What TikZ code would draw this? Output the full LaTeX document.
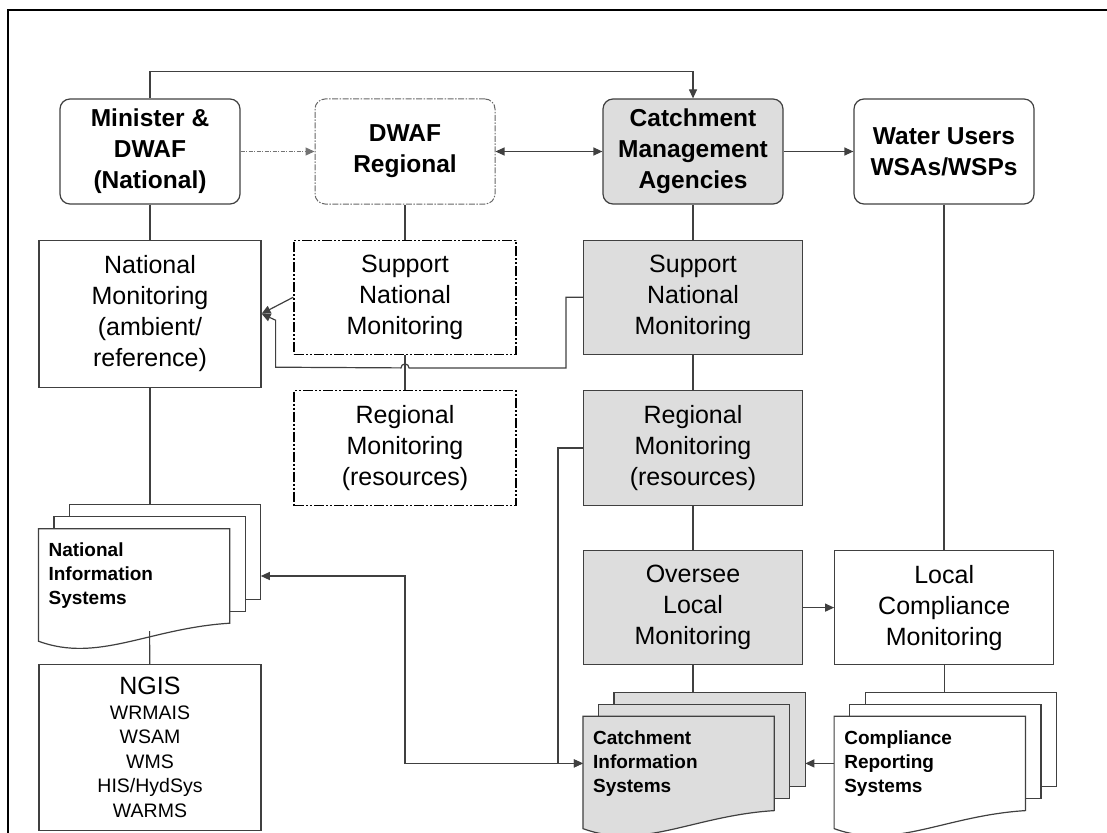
\documentclass[tikz,border=0pt]{standalone}
\usepackage{fontspec}
\setmainfont{Liberation Sans}
\usetikzlibrary{shapes,arrows.meta,positioning,calc,backgrounds}

\definecolor{boxgray}{RGB}{221,221,221}
\definecolor{edge}{RGB}{64,64,64}

% stack of three report pages behind a front node, the front one with a wavy foot
\newcommand{\docstack}[2]{%
  \coordinate (#1back) at ($(#1.north)+(31,-24)$);
  \coordinate (#1rim) at ($(#1.east)+(31,0)$);
  \begin{scope}[on background layer]
    \foreach \k in {2,1}
      \filldraw[docpage, fill=#2] ($(#1.north west)+(15.5*\k,-12*\k)$) rectangle ($(#1.south east)+(15.5*\k,-12*\k)$);
    \filldraw[docpage, fill=#2] (#1.north west) -- (#1.north east) -- (#1.south east)
      .. controls +(-81,5) and +(60,22) .. ($(#1.south west)+(0,18)$) -- cycle;
  \end{scope}}

\begin{document}
\begin{tikzpicture}[
    x=1pt, y=-1pt,
    node distance=35pt and 31pt,
    headbox/.style={rectangle, draw=edge, line width=1.2pt, rounded corners=10pt, minimum width=180pt, minimum height=105pt, align=center, inner sep=2pt, font=\fontsize{24.5}{31}\selectfont\bfseries},
    regdash/.style={draw=black!60, line width=1pt, dash pattern=on 6pt off 1.5pt on 1.5pt off 1.5pt},
    monbox/.style={rectangle, draw=edge, line width=1.2pt, minimum width=219pt, minimum height=114pt, align=center, inner sep=2pt, font=\fontsize{25}{31}\selectfont},
    dashbox/.style={draw=black, line width=1.4pt, minimum width=222pt, dash pattern=on 10pt off 2pt on 2pt off 2pt on 2pt off 2pt},
    docfront/.style={rectangle, text width=171pt, inner xsep=10pt, inner ysep=0pt, minimum height=94pt, align=left, font=\fontsize{19}{24}\selectfont\bfseries},
    docpage/.style={draw=edge, line width=1.2pt},
    listbox/.style={rectangle, draw=edge, line width=1.2pt, minimum width=222pt, minimum height=166pt, align=center, inner sep=2pt, font=\fontsize{19.5}{24.5}\selectfont},
    link/.style={draw=edge, line width=1.2pt},
    arrow/.style={link, -{Triangle[length=9pt,width=8pt]}},
    dblarrow/.style={link, {Triangle[length=9pt,width=8pt]}-{Triangle[length=9pt,width=8pt]}},
    dotarrow/.style={arrow, draw=black!55, dash pattern=on 4pt off 1.5pt on 1pt off 1.5pt}
]
\useasboundingbox (0,0) rectangle (1107,832);
\draw[line width=2.6pt] (8,10) rectangle (1140,860);

% Top row: who is responsible
\node [headbox] (minister) at (150,151.5) {Minister \&\\DWAF\\(National)};
\node [headbox, regdash] (regional) at (405,151.5) {DWAF\\Regional};
\node [headbox, fill=boxgray] (cma) at (693,151.5) {Catchment\\Management\\Agencies};
\node [headbox] (users) at (944,151.5) {Water Users\\WSAs/WSPs};

% Monitoring programmes
\node [monbox, minimum width=222pt, minimum height=147pt, below=of minister] (natmon) {National\\Monitoring\\(ambient/\\reference)};
\node [monbox, dashbox, below=of regional] (supd) {Support\\National\\Monitoring};
\node [monbox, fill=boxgray, below=of cma] (supg) {Support\\National\\Monitoring};
\node [monbox, dashbox, minimum height=115pt, below=of supd] (regd) {Regional\\Monitoring\\(resources)};
\node [monbox, fill=boxgray, minimum height=115pt, below=of supg] (regg) {Regional\\Monitoring\\(resources)};
\node [monbox, fill=boxgray, below=44pt of regg] (oversee) {Oversee\\Local\\Monitoring};
\node [monbox, right=of oversee] (localc) {Local\\Compliance\\Monitoring};

% Information systems
\node [docfront, anchor=north west] (natis) at ($(natmon.south west)+(0,141)$) {National\\Information\\Systems};
\node [docfront, anchor=north west] (cis) at ($(oversee.south west)+(0,51)$) {Catchment\\Information\\Systems};
\node [docfront, anchor=north west] (crs) at ($(localc.south west)+(0,51)$) {Compliance\\Reporting\\Systems};
\docstack{natis}{white}
\docstack{cis}{boxgray}
\docstack{crs}{white}

\node [listbox, below=276pt of natmon] (ngis) {{\fontsize{25}{29}\selectfont NGIS}\\WRMAIS\\WSAM\\WMS\\HIS/HydSys\\WARMS};

% Top row arrows
\draw [arrow] (minister.north) -- ++(0,-27) -| (cma.north);
\draw [dotarrow] (minister) -- (regional);
\draw [dblarrow] (regional) -- (cma);
\draw [arrow] (cma) -- (users);

% Vertical links
\draw [link] (minister) -- (natmon);
\draw [link] (regional) -- (supd);
\draw [link] (supd) -- (regd);
\draw [link] (cma) -- (supg);
\draw [link] (supg) -- (regg);
\draw [link] (regg) -- (oversee);
\draw [link] (users.south) -- (users.south |- localc.north);
\draw [link] (natmon.south) -- (natmon.south |- natisback);
\draw [link] (ngis) -- ($(natis.south)+(15.5,8)$);
\draw [link] (oversee.south) -- (oversee.south |- cisback);
\draw [link] (localc.south) -- (localc.south |- crsback);

% Support for national monitoring
\draw [arrow] (supd.west) -- (natmon.east);
\draw [arrow] (supg.west) -- ++(-17,0) |- ($(supd.south)+(4,13)$)
    arc[start angle=0, end angle=180, radius=4pt]
    -- ($(natmon.east)+(14,53.5)$) -- ++(0,-47) -- (natmon.east);

% Data flow into the information systems
\draw [arrow] (regg.west) -- ++(-25,0) |- (cis.west);
\draw [dblarrow] (natisrim) -| (regd.south |- cis.west) -- (cis.west);
\draw [arrow] (oversee) -- (localc);
\draw [arrow] (crs.west) -- (cisrim);

\end{tikzpicture}
\end{document}
